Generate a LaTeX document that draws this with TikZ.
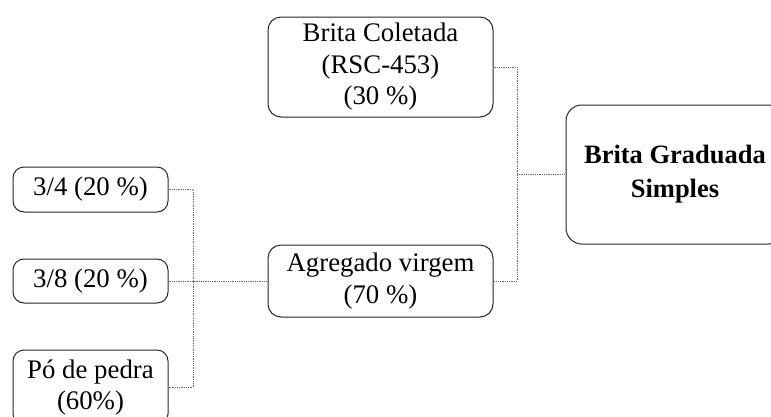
\documentclass[tikz,border=0pt]{standalone}
\usepackage{fontspec}
\setmainfont{Liberation Serif}
\begin{document}
\begin{tikzpicture}[x=1pt,y=-1pt,
  box/.style={draw=black!85, line width=1pt, rounded corners=13pt, align=center,
    inner sep=0pt, font=\fontsize{26.8}{31.5}\selectfont},
  conn/.style={draw=black!60, line width=0.9pt, dash pattern=on 1pt off 0.8pt}]
\useasboundingbox (0,0) rectangle (771,416);
\clip (0,0) rectangle (771,416);
\fill[white] (0,0) rectangle (771,416);

% mixture components
\node[box, minimum width=225pt, minimum height=100pt] (bc) at (380.5,67)
  {Brita Coletada\\(RSC-453)\\(30 \%)};
\node[box, minimum width=225pt, minimum height=72pt] (ag) at (380.5,281)
  {Agregado virgem\\(70 \%)};
\node[box, minimum width=218pt, minimum height=139pt, rounded corners=16pt,
  font=\fontsize{26.5}{34}\selectfont\bfseries] (bgs) at (675,174.5)
  {Brita Graduada\\Simples};

% virgin aggregate fractions
\node[box, minimum width=155pt, minimum height=45pt, rounded corners=11pt] (b34) at (90.5,189.5) {3/4 (20 \%)};
\node[box, minimum width=155pt, minimum height=44pt, rounded corners=11pt] (b38) at (90.5,281) {3/8 (20 \%)};
\node[box, minimum width=155pt, minimum height=75pt, rounded corners=11pt] (po) at (90.5,387.5) {Pó de pedra\\(60\%)};

% junction points
\coordinate (j1) at (517,174.5);
\coordinate (j2) at (193,281);

\draw[conn] (bc.east) -| (j1) |- (ag.east);
\draw[conn] (j1) -- (bgs.west);
\draw[conn] (b34.east) -| (j2) |- (po.east);
\draw[conn] (b38.east) -- (ag.west);
\end{tikzpicture}
\end{document}
